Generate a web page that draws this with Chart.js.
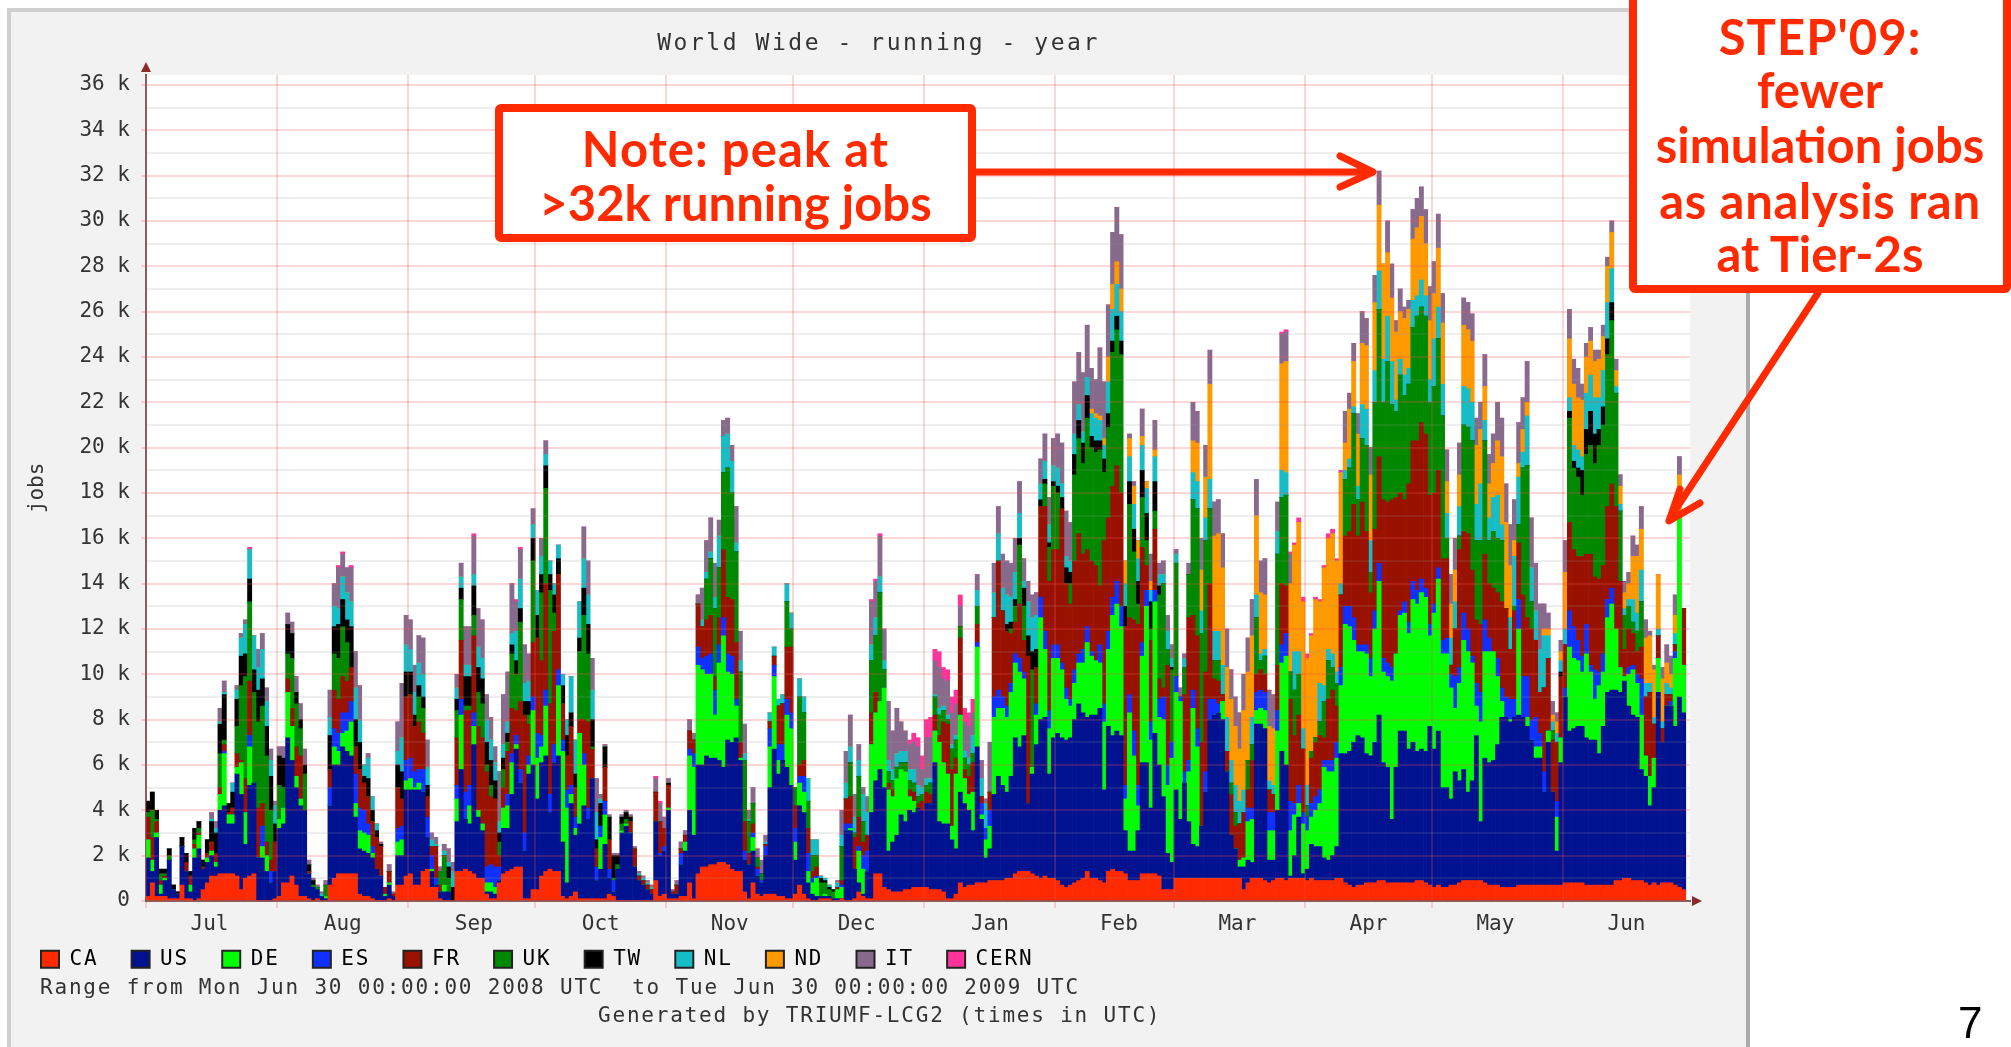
<!doctype html>
<html><head><meta charset="utf-8">
<script src="https://cdn.jsdelivr.net/npm/chart.js@4/dist/chart.umd.min.js"></script>
<style>
html,body{margin:0;background:#fff}
body{width:2011px;height:1047px;overflow:hidden;position:relative}
#panel{position:absolute;left:7px;top:8px;width:1743px;height:1050px;box-sizing:border-box;background:#f2f2f2;border-left:4px solid #cfcfcf;border-top:4px solid #cfcfcf;border-right:4px solid #ababab}
canvas{position:absolute;left:11px;top:12px}
.t{position:absolute;font-family:"DejaVu Sans Mono",monospace;font-size:21px;line-height:25px;letter-spacing:1.8px;color:#333;white-space:pre}
svg{position:absolute;left:0;top:0}
.n{position:absolute;font-family:"Comic Sans MS","Lato",sans-serif;font-weight:700;color:#ff2a00;font-size:49px;line-height:50px;text-align:center;white-space:pre}
#pg{position:absolute;left:1958px;top:998px;font-family:"Liberation Sans",sans-serif;font-size:44px;line-height:50px;color:#000}
</style></head><body>
<div id="panel"></div>
<canvas id="c" width="1734" height="1035"></canvas>
<div class="t" style="left:40px;top:975px">Range from Mon Jun 30 00:00:00 2008 UTC  to Tue Jun 30 00:00:00 2009 UTC</div>
<div class="t" style="left:598px;top:1003px">Generated by TRIUMF-LCG2 (times in UTC)</div>
<svg width="2011" height="1047">
<rect x="499" y="108" width="473" height="130" fill="#fff" stroke="#ff2a00" stroke-width="8" rx="2"/>
<rect x="1633" y="-4" width="374" height="293" fill="#fff" stroke="#ff2a00" stroke-width="8" rx="2"/>
<g fill="none" stroke="#ff2a00" stroke-width="7" stroke-linecap="round" stroke-linejoin="round">
<path d="M976 172H1371M1340 156L1373 172L1340 187"/>
<path d="M1818 293L1670 518M1680 489L1669 521L1700 503"/>
</g></svg>
<div class="n" style="left:499px;width:473px;top:123px;letter-spacing:1.1px">Note: peak at</div>
<div class="n" style="left:499px;width:473px;top:177px">&gt;32k running jobs</div>
<div class="n" style="left:1633px;width:374px;top:11px;letter-spacing:1px">STEP'09:</div>
<div class="n" style="left:1633px;width:374px;top:64px">fewer</div>
<div class="n" style="left:1633px;width:374px;top:119px">simulation jobs</div>
<div class="n" style="left:1633px;width:374px;top:175px;letter-spacing:.7px">as analysis ran</div>
<div class="n" style="left:1633px;width:374px;top:228px">at Tier-2s</div>
<div id="pg">7</div>
<script>
// Values, one column per day from Jul 1 2008, in hundreds of running jobs.
const CA=[2,8,2,2,2,1,1,1,7,1,1,0,1,5,8,11,11,12,12,12,12,11,5,10,11,12,0,0,0,0,1,2,8,8,11,7,2,2,1,0,1,0,0,7,10,12,12,12,12,12,3,2,2,1,0,0,0,1,0,7,7,
11,12,7,7,13,14,6,6,1,0,0,0,13,13,14,13,12,10,10,3,1,1,8,12,13,14,15,15,1,1,5,5,11,13,14,13,13,2,1,2,4,1,1,1,1,1,1,1,3,2,0,0,0,0,0,0,0,0,0,9,2,
3,1,1,1,2,2,8,1,12,15,15,16,16,17,17,16,14,13,13,4,1,8,3,2,3,3,3,2,2,1,1,3,7,3,1,0,0,1,1,1,0,0,1,0,0,1,4,2,1,1,12,12,6,5,4,4,4,5,5,6,6,
6,6,5,5,5,4,1,1,3,8,6,7,7,8,8,8,9,9,9,9,10,10,12,13,13,13,12,11,10,11,10,10,9,7,6,7,8,9,10,13,10,10,9,8,13,14,13,13,12,9,9,9,12,12,12,12,11,5,5,5,
10,10,10,10,10,10,10,10,10,10,10,10,10,10,10,10,5,8,10,10,10,9,8,9,10,10,9,10,10,10,10,9,10,9,9,9,9,9,10,10,8,7,6,7,7,8,8,8,9,9,8,8,8,8,8,8,8,9,9,8,7,
6,7,6,6,7,7,8,9,9,9,9,9,8,7,7,7,6,6,6,6,7,7,7,7,7,7,7,7,7,7,7,8,8,8,8,8,7,7,7,7,7,7,7,9,9,10,10,9,9,9,8,7,8,7,8,8,8,7,6,5];
const US=[17,5,26,1,7,17,4,2,17,12,3,19,22,9,9,9,4,28,30,22,22,45,42,15,40,40,19,19,13,8,12,30,26,64,51,43,40,38,11,6,4,2,1,35,50,48,56,54,52,25,20,20,19,18,14,11,2,6,2,13,13,
38,37,42,42,35,14,7,1,3,4,4,0,22,45,22,21,57,27,21,1,3,2,1,20,19,33,52,37,21,55,55,40,50,51,25,48,51,24,7,41,25,33,41,35,53,8,13,24,7,2,14,30,33,30,15,9,7,5,3,26,18,
19,39,2,2,14,20,32,28,48,45,49,47,47,45,42,55,56,59,49,14,15,14,8,6,17,47,64,54,60,58,50,15,35,36,7,3,2,1,1,1,1,1,0,31,31,13,4,1,12,38,41,46,44,17,22,25,34,30,35,33,35,
34,37,38,56,30,30,33,26,20,40,37,33,24,60,28,11,14,38,46,42,38,45,60,55,60,30,44,58,70,70,46,62,65,65,65,65,72,78,73,68,72,72,76,41,64,59,62,60,19,13,13,22,49,49,29,62,49,41,16,12,
39,26,42,25,15,14,23,38,70,72,73,70,47,19,13,5,10,10,7,68,68,67,10,9,30,56,51,1,10,27,2,5,15,15,15,10,9,11,14,55,57,59,64,66,65,57,56,62,73,52,51,28,51,67,67,59,62,57,58,58,70,
61,68,44,44,38,50,45,49,39,44,64,26,55,54,55,62,75,75,73,75,75,74,70,64,56,56,41,63,41,15,54,82,67,68,69,69,65,64,64,58,70,85,86,84,83,87,76,73,72,49,47,35,42,85,62,78,78,70,84,78];
const DE=[8,5,2,4,1,0,0,0,0,0,3,4,6,0,2,2,2,7,23,4,4,3,14,14,17,0,0,5,7,0,0,4,7,20,15,5,3,0,0,0,0,0,1,0,8,6,6,9,15,6,8,8,8,2,0,0,1,1,0,6,7,
4,5,1,3,0,0,1,0,0,3,0,0,10,24,0,8,8,3,3,4,4,3,0,9,10,14,2,0,0,4,24,18,7,22,0,0,31,40,33,4,3,40,18,0,0,0,14,13,0,0,0,1,1,0,0,0,0,0,0,0,0,
0,1,0,0,0,4,24,30,44,42,36,37,19,43,58,30,30,14,1,0,0,6,0,0,0,18,32,6,0,23,25,8,10,9,5,5,8,0,1,0,0,4,5,0,1,0,14,11,0,30,30,30,44,27,20,25,20,22,6,5,0,
0,0,0,14,35,27,22,6,33,34,11,7,17,44,2,8,10,34,30,34,33,37,33,33,25,0,3,13,45,30,20,35,33,30,18,14,16,18,22,33,26,24,20,30,34,53,56,48,14,61,42,11,47,69,30,58,21,34,30,46,
43,52,0,22,60,44,0,0,0,0,0,8,0,0,0,3,4,17,19,6,7,8,13,13,35,39,48,20,18,6,22,17,12,16,19,40,39,37,39,30,57,55,45,37,38,44,35,50,59,40,40,61,50,51,52,51,63,65,69,68,40,
60,67,59,59,49,28,43,57,62,52,13,44,47,49,48,30,7,0,1,0,38,0,4,0,5,5,0,5,0,15,11,0,37,31,29,24,37,30,18,30,24,33,38,27,11,2,14,20,15,24,9,13,13,15,0,0,0,30,79,21];
const ES=[0,0,0,0,0,0,0,0,0,0,0,0,0,0,0,0,0,0,1,0,0,0,0,0,5,0,0,9,0,5,0,0,0,0,0,0,0,0,0,0,0,0,0,8,8,8,9,8,9,13,10,10,5,3,0,0,0,0,0,6,6,
9,9,7,6,10,9,6,3,0,0,0,0,6,7,12,9,6,0,0,7,8,9,6,0,5,4,4,6,8,4,6,11,5,7,8,8,7,5,8,4,5,0,5,5,0,6,5,6,4,5,0,0,0,0,0,0,0,0,0,0,1,
2,0,0,0,5,0,3,6,8,5,8,9,11,8,8,8,8,3,0,4,0,2,3,1,4,8,5,7,7,7,7,6,3,7,8,2,1,0,0,0,0,0,1,3,2,0,2,6,9,0,0,0,0,0,0,0,0,0,0,0,0,
0,0,0,0,0,0,0,0,0,0,0,0,0,2,5,5,7,9,8,5,5,4,4,6,3,0,0,5,9,8,8,6,6,3,5,3,6,4,6,7,2,0,8,8,8,8,10,9,6,8,11,9,6,7,8,5,8,10,9,7,
7,2,5,5,8,8,0,9,9,7,4,0,0,0,0,0,0,6,5,8,8,8,8,8,9,8,10,13,5,8,5,6,6,6,6,3,5,5,7,8,8,9,10,3,3,4,8,8,8,6,6,6,0,2,5,5,8,6,6,4,5,
4,5,6,7,6,14,7,12,10,3,10,13,14,6,0,8,6,9,9,8,13,18,18,9,13,6,9,0,0,7,0,4,16,14,9,7,13,3,13,6,8,8,7,0,0,0,3,2,4,16,0,0,0,0,0,0,2,3,0,0];
const FR=[10,10,5,2,1,0,0,0,0,4,4,2,1,1,2,4,4,3,3,1,3,6,1,15,24,0,22,10,6,5,13,0,0,6,8,13,19,0,1,0,0,0,0,8,17,15,16,14,15,12,17,12,12,11,14,13,3,5,1,18,12,
28,28,20,21,16,9,4,14,3,0,0,0,21,26,36,33,34,37,38,42,30,30,5,9,19,20,11,30,52,14,24,42,33,47,40,50,42,16,15,26,13,6,15,38,13,8,0,15,13,0,0,0,0,5,8,2,2,2,2,13,14,
8,10,1,4,2,3,8,6,19,14,16,17,6,12,30,25,25,25,7,13,5,4,1,0,1,3,4,17,18,23,29,10,5,7,11,3,4,0,0,0,0,1,2,11,12,14,13,6,7,14,9,0,0,3,3,0,0,0,3,4,2,
4,5,4,7,3,18,22,25,7,34,4,8,13,8,3,0,8,35,57,38,33,22,14,24,14,65,0,16,40,55,57,42,42,68,46,42,48,53,42,34,40,42,26,72,50,49,51,50,70,34,49,71,42,11,36,27,9,4,44,0,
0,0,34,63,33,41,37,44,51,9,10,3,9,18,10,16,20,8,21,8,9,8,10,8,20,27,21,45,30,31,28,0,20,24,24,10,27,31,16,32,31,33,50,48,63,50,29,36,47,70,71,74,69,52,45,61,62,66,69,68,57,
49,43,36,35,4,21,52,36,42,38,28,30,29,24,28,29,38,39,22,39,25,36,26,40,34,18,37,32,23,26,27,19,39,34,37,44,31,49,41,41,39,41,46,54,38,12,17,14,10,14,26,37,15,10,6,5,3,3,0,25];
const UK=[2,12,1,3,1,2,0,0,0,0,0,2,2,0,0,0,0,15,2,0,0,12,33,45,35,40,38,43,38,22,0,15,9,11,22,19,12,16,0,1,1,0,5,0,16,18,22,17,0,0,0,0,0,0,0,0,0,0,0,0,0,
0,0,0,11,11,0,0,0,6,13,6,0,12,18,2,2,9,15,15,3,5,0,6,8,4,24,16,35,0,4,36,0,30,42,50,8,0,0,0,0,0,30,46,30,1,0,0,0,0,1,2,3,2,0,0,0,0,0,0,0,0,
0,0,0,0,0,0,0,0,0,0,18,25,30,22,34,57,47,40,31,27,14,9,4,3,0,0,0,0,0,20,8,8,30,21,12,7,5,6,5,3,3,0,15,0,15,2,18,9,0,23,25,48,8,5,4,5,3,4,4,4,3,
3,3,5,8,9,5,2,9,8,5,5,5,4,8,0,0,0,0,0,0,0,2,7,26,15,0,43,0,0,10,15,28,25,0,0,9,38,42,40,58,50,50,60,30,40,59,60,61,0,50,30,9,22,11,5,8,37,46,7,32,
50,0,12,19,51,56,48,58,33,8,9,0,0,5,6,0,0,13,7,25,4,8,0,0,49,38,40,12,20,18,0,5,3,2,6,16,17,10,10,0,25,28,40,16,28,38,9,56,65,43,62,42,38,52,46,44,50,55,51,52,41,
47,58,63,9,0,0,6,47,47,57,35,37,50,19,25,24,27,0,0,2,8,56,67,12,0,0,0,0,4,0,0,0,46,36,35,27,44,48,50,59,62,67,72,50,31,15,10,5,9,20,0,0,0,0,0,0,0,0,0,0];
const TW=[5,8,4,2,2,3,2,1,4,4,2,5,3,3,6,9,9,13,20,4,7,12,13,10,10,10,14,12,13,15,8,13,13,13,11,5,4,4,3,2,0,0,0,15,12,15,12,10,18,12,12,3,8,5,3,1,0,0,0,10,12,
11,10,5,5,5,5,0,0,0,0,5,6,5,5,13,13,13,11,11,10,11,8,4,5,4,4,6,6,6,6,10,10,8,10,7,8,7,8,9,6,6,6,12,13,12,4,10,9,10,10,4,3,3,2,0,0,0,0,0,0,0,
0,1,0,0,0,0,0,0,0,0,
0,0,0,0,0,0,0,0,0,0,0,0,0,0,0,0,0,0,0,0,
0,0,0,0,0,0,0,2,1,1,
1,0,0,0,0,0,0,0,0,0,
0,0,0,0,0,0,0,0,0,0,0,
0,0,0,0,0,0,0,0,0,0,0,0,0,0,0,0,0,0,0,0,
3,3,3,3,8,9,8,8,3,2,2,2,3,5,7,5,9,8,9,10,5,5,4,6,6,5,6,6,9,10,10,10,12,12,12,13,4,0,0,1,
0,0,0,0,0,0,0,0,0,0,0,0,0,0,0,0,0,0,0,0,
0,0,0,0,0,0,0,0,0,0,0,0,0,0,0,0,0,0,0,0,
0,0,0,0,0,0,0,0,0,0,0,0,0,0,0,0,0,0,0,0,
0,
0,0,0,0,0,0,0,0,0,0,0,0,0,0,0,0,0,0,0,0,
0,0,0,0,0,0,0,0,0,0,
2,0,3,3,4,11,11,15,13,7,8,7,8,0,0,0,0,0,0,0,
0,0,0,0,0,0,0,0,0,0];
const NL=[0,0,0,0,0,0,0,0,0,0,0,0,0,0,0,1,2,1,1,0,4,4,8,13,13,15,10,13,11,7,8,0,0,0,0,0,0,0,0,0,0,1,0,8,9,7,10,12,11,14,10,5,9,6,3,0,0,0,0,6,15,
12,10,10,10,10,8,3,1,0,2,2,7,5,5,5,5,5,9,9,10,9,8,5,6,5,5,13,13,8,9,6,11,8,5,6,5,6,5,7,16,15,16,13,13,13,12,2,0,0,0,0,0,0,0,0,1,1,1,1,0,0,
0,0,0,0,0,0,0,0,0,3,3,3,5,14,16,15,14,4,5,3,1,0,0,0,1,4,4,3,4,8,7,0,8,7,10,7,7,1,1,1,0,2,5,7,7,7,7,12,10,7,8,7,4,5,5,6,5,5,5,6,5,
3,3,2,1,3,2,2,2,2,0,3,3,8,7,8,11,0,11,12,10,13,11,12,11,3,15,15,15,7,8,8,7,8,6,5,5,9,7,5,8,10,10,9,6,14,14,14,13,10,11,11,10,11,11,5,11,5,4,8,4,
4,0,4,0,12,12,10,10,13,13,13,13,15,10,12,10,10,0,12,10,3,3,4,4,10,12,10,0,17,10,9,9,0,0,17,7,5,6,5,5,4,4,3,6,15,16,14,14,17,19,20,19,5,7,9,7,12,9,12,9,10,
21,14,14,11,12,12,13,17,17,17,16,25,9,10,15,19,7,0,14,22,21,7,22,15,13,19,23,10,4,4,5,7,6,7,8,6,16,16,16,14,16,16,15,3,3,3,3,10,8,14,6,4,3,3,3,5,3,5,0,0];
const ND=[0,0,0,0,0,0,0,0,0,0,0,0,0,0,0,0,0,0,0,0,
0,0,0,0,0,0,0,0,0,0,0,0,0,0,0,0,0,0,0,0,
0,0,0,0,0,0,0,0,0,0,0,0,0,0,0,0,0,0,0,0,
0,0,0,0,0,0,0,0,0,0,0,0,0,0,0,0,0,0,0,0,
0,0,0,0,0,0,0,0,0,0,0,0,0,0,0,0,0,0,0,0,
0,0,0,0,0,0,0,0,0,0,0,0,0,0,0,0,0,0,0,0,
0,0,0,0,0,0,0,0,0,0,0,0,0,0,0,0,0,0,0,0,
0,0,0,0,0,0,0,0,0,0,0,0,0,0,0,0,0,0,0,0,
0,0,0,0,0,0,0,0,0,0,0,0,0,0,0,0,0,0,0,0,
0,0,0,0,0,0,0,0,0,0,0,0,0,0,0,0,0,0,0,0,
0,0,0,0,0,0,0,0,0,0,0,0,0,0,0,0,0,0,0,0,
0,0,0,
2,2,2,3,11,11,10,10,10,8,8,8,4,3,4,3,0,0,0,0,
0,0,0,0,14,17,18,18,42,42,43,43,22,27,26,23,35,39,36,35,27,24,24,25,0,47,49,39,47,57,56,56,51,61,36,52,49,53,49,49,12,22,20,23,27,28,29,30,29,42,28,28,30,21,25,26,27,30,28,23,26,
20,26,27,14,15,14,14,27,26,27,26,24,15,15,15,24,30,38,23,7,6,10,6,0,0,0,3,3,3,5,4,25,26,27,23,25,16,15,16,17,15,16,16,7,8,7,7,19,25,18,20,21,21,24,19,9,6,8,19,0];
const IT=[0,0,0,0,0,0,0,0,0,0,0,0,0,0,0,3,3,6,5,0,0,2,2,2,0,0,8,7,6,5,2,4,5,5,5,7,7,7,2,1,1,1,2,12,10,18,10,11,15,16,15,0,2,0,0,1,0,3,1,13,24,
13,13,12,12,16,12,3,3,2,3,6,4,6,6,17,17,17,17,17,11,10,7,22,22,22,22,13,13,17,12,7,0,8,6,0,0,0,0,0,0,0,0,14,15,14,15,2,1,1,1,1,1,1,1,1,1,1,1,1,6,8,
5,2,1,2,3,2,5,3,4,14,14,15,15,7,7,7,7,16,13,13,4,7,4,6,3,0,0,0,0,0,0,0,0,0,0,0,0,0,0,0,0,1,11,14,14,10,7,3,7,19,16,18,14,26,17,20,13,9,11,12,17,
8,18,18,15,18,12,15,14,14,9,13,14,10,7,8,2,22,13,12,15,15,15,15,14,10,9,10,10,11,12,12,12,15,18,20,17,23,23,26,23,18,15,30,25,23,23,24,24,0,2,2,0,12,0,12,13,5,6,7,6,
2,4,2,5,17,14,14,14,15,15,15,15,17,13,13,16,16,15,16,16,14,16,16,15,13,13,13,13,0,0,0,0,0,0,0,0,0,0,0,0,14,7,8,9,14,12,12,12,15,0,14,15,5,10,5,4,13,13,13,15,15,
14,15,13,14,13,14,14,12,12,12,12,12,14,13,13,17,17,17,18,18,18,14,18,22,21,20,11,7,6,4,5,14,13,11,13,7,6,6,5,4,5,4,5,5,5,5,5,9,5,10,8,2,2,0,5,8,8,9,8,0];
const CERN=[0,0,0,0,0,0,0,0,0,0,0,0,0,0,0,0,0,0,0,0,0,0,0,0,1,0,0,0,0,0,0,0,0,0,0,0,0,0,0,0,0,0,0,0,0,1,1,0,1,0,0,0,0,0,0,0,0,0,0,0,0,
0,0,0,0,0,0,0,0,0,0,0,0,0,0,0,0,1,0,0,0,0,0,0,0,0,0,1,1,0,0,0,0,0,0,0,0,0,0,0,0,0,0,0,0,0,0,0,0,0,0,0,0,0,0,0,0,0,0,0,1,1,
0,0,0,0,0,0,0,0,0,0,0,0,0,0,0,0,0,0,0,0,0,0,0,0,0,0,0,0,0,0,0,0,0,0,0,0,0,0,0,0,0,0,0,0,0,0,0,0,0,1,1,1,0,0,0,0,0,0,2,4,4,
6,8,9,5,7,5,5,7,6,5,6,6,6,0,0,0,0,0,0,0,0,0,0,0,0,0,0,0,0,0,0,0,0,0,0,0,0,0,0,0,0,0,0,0,0,0,0,0,0,0,0,0,0,0,0,0,0,0,0,0,
0,0,0,0,0,0,0,0,0,0,0,0,0,0,0,0,0,0,0,0,0,0,0,0,0,1,1,1,1,2,2,2,1,1,1,1,2,2,1,1,0,0,0,0,0,0,0,0,0,0,0,0,0,0,0,0,0,0,0,0,0,
0,0,0,0,0,0,0,0,0,0,0,0,0,0,0,0,0,0,0,0,0,0,0,0,0,0,0,0,0,0,0,0,0,0,0,0,0,0,0,0,0,0,0,0,0,0,0,0,0,0,0,0,0,0,0,0,0,0,0,0];
const SERIES=[['CA',CA,'#ff2a00'],['US',US,'#00128f'],['DE',DE,'#00ff00'],['ES',ES,'#1030ff'],['FR',FR,'#991100'],['UK',UK,'#008800'],['TW',TW,'#000000'],['NL',NL,'#17bdc4'],['ND',ND,'#ff9900'],['IT',IT,'#886b8c'],['CERN',CERN,'#ff3399']];
const MONTH_STARTS=[0,31,62,92,123,153,184,215,243,274,304,335];
const MONTH_LABELS=['Jul','Aug','Sep','Oct','Nov','Dec','Jan','Feb','Mar','Apr','May','Jun'];
const MONTH_LABEL_AT=[15,46.5,77.5,107.5,138,168,199.5,230,258,289,319,350];
const Y_TICK_STEP=1000,Y_TICK_MAX=36000;
const MONO='"DejaVu Sans Mono",monospace';
const INK='#333';
const PINK='rgba(240,80,80,0.23)',GREY='rgba(150,150,150,0.16)',AXIS='#6f5f60';

const extras={id:'extras',
 beforeDraw(ch){const a=ch.chartArea,c=ch.ctx;c.save();c.fillStyle='#fff';c.fillRect(a.left,a.top,a.right-a.left,a.bottom-a.top);c.restore();},
 afterLayout(ch){ch.legend.left=30-4.34;ch.legend.top=932.5;},
 afterDraw(ch){const a=ch.chartArea,c=ch.ctx;c.save();c.fillStyle='#8b2a2a';
  c.beginPath();c.moveTo(a.left,a.top-13);c.lineTo(a.left-5,a.top-3);c.lineTo(a.left+5,a.top-3);c.fill();
  c.beginPath();c.moveTo(a.right+12,a.bottom);c.lineTo(a.right+2,a.bottom-5);c.lineTo(a.right+2,a.bottom+5);c.fill();
  c.restore();}};

const chart=new Chart(document.getElementById('c'),{type:'bar',plugins:[extras],
 data:{datasets:SERIES.map(([label,vals,color])=>({label,backgroundColor:color,borderWidth:0,barPercentage:1,categoryPercentage:1,
   data:vals.map((v,i)=>({x:i+0.5,y:v*100}))}))},
 options:{responsive:false,animation:false,
  layout:{padding:{left:14,right:55,top:0,bottom:70.7}},
  plugins:{tooltip:{enabled:false},
   title:{display:true,text:'World Wide - running - year',color:INK,padding:{top:18,bottom:17.4},font:{family:MONO,size:23,weight:'normal'}},
   legend:{position:'bottom',align:'start',labels:{font:{family:MONO,size:21},color:INK,boxWidth:18,boxHeight:17,padding:4.34,
     generateLabels:c=>c.data.datasets.map((d,i)=>({text:d.label.padEnd(4,' '),fillStyle:d.backgroundColor,strokeStyle:'#222',lineWidth:2,datasetIndex:i,hidden:false}))}}},
  scales:{
   x:{type:'linear',stacked:true,min:0,max:365,offset:false,
    afterBuildTicks(s){s.ticks=[...MONTH_STARTS,...MONTH_LABEL_AT].sort((a,b)=>a-b).map(v=>({value:v}));},
    afterFit(s){s.height=40;},
    border:{color:AXIS,width:2},
    grid:{z:1,lineWidth:2,tickLength:7,offset:false,
      color:c=>c.tick&&MONTH_STARTS.includes(c.tick.value)?PINK:'rgba(0,0,0,0)',
      tickColor:c=>c.tick&&MONTH_STARTS.includes(c.tick.value)?PINK:'rgba(0,0,0,0)'},
    ticks:{autoSkip:false,maxRotation:0,color:INK,padding:4,font:{family:MONO,size:21},
      callback:v=>{const i=MONTH_LABEL_AT.indexOf(v);return i>=0?MONTH_LABELS[i]:'';}}},
   y:{stacked:true,min:0,max:36440,
    afterBuildTicks(s){const t=[];for(let v=0;v<=Y_TICK_MAX;v+=Y_TICK_STEP)t.push({value:v});s.ticks=t;},
    afterFit(s){s.width=121;},
    border:{color:AXIS,width:2},
    title:{display:true,text:'jobs',color:INK,padding:0,font:{family:MONO,size:21}},
    grid:{z:1,lineWidth:2,tickLength:5,
      color:c=>c.tick&&c.tick.value%2000===0?PINK:GREY,
      tickColor:c=>c.tick&&c.tick.value%2000===0?PINK:'rgba(0,0,0,0)'},
    ticks:{autoSkip:false,color:INK,padding:11,font:{family:MONO,size:21},
      callback:v=>v%2000!==0?'':(v===0?'0':(v/1000)+' k')}}
  }}});
// Stretch title and legend text to the reference's wide monospace pitch; the title sits on the panel's centre.
function spaced(box,px,dx){const d=box.draw;box.draw=function(a){const c=chart.ctx;c.save();c.translate(dx,0);c.letterSpacing=px;d.call(box,a);c.letterSpacing='0px';c.restore();};}
spaced(chart.titleBlock,'2.55px',21);spaced(chart.legend,'1.8px',0);
chart.draw();
</script></body></html>
